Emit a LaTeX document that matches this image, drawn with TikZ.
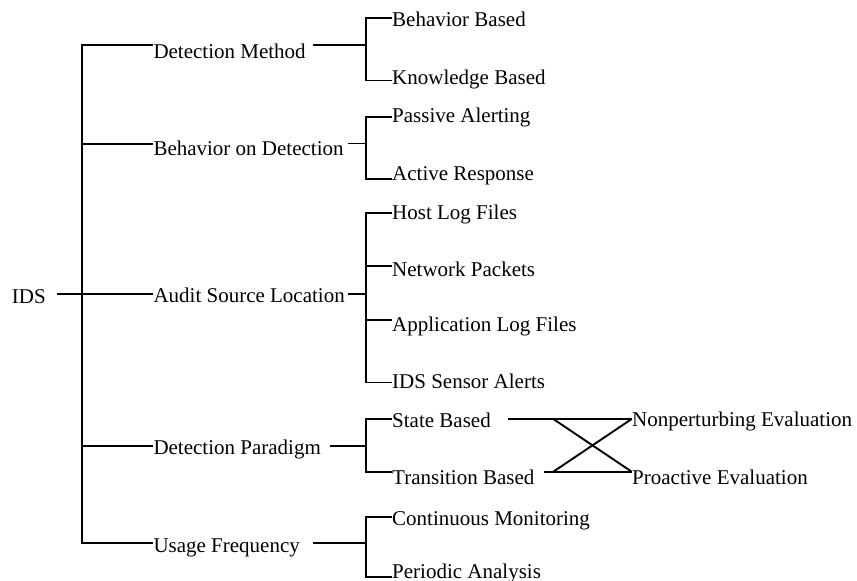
\documentclass[tikz,border=0pt]{standalone}
\usepackage{fontspec}
\setmainfont{Liberation Serif}
\begin{document}
\begin{tikzpicture}[x=1pt,y=-1pt,
  lbl/.style={anchor=base west, inner sep=0pt, font=\fontsize{21}{25}\selectfont},
  wire/.style={line width=1.9pt, line join=miter, line cap=butt}]
\useasboundingbox (0,0) rectangle (857,581);

% ---- text ----
\node[lbl] (ids) at (11.7,303.3) {IDS};

\node[lbl] (dm)  at (153.3,58.3)  {Detection Method};
\node[lbl] (bod) at (153.3,155.7) {Behavior on Detection};
\node[lbl] (asl) at (153.3,302.7) {Audit Source Location};
\node[lbl] (dp)  at (153.3,454)   {Detection Paradigm};
\node[lbl] (uf)  at (153.3,552.7) {Usage Frequency};

\node[lbl] (bb)  at (392,26.7)  {Behavior Based};
\node[lbl] (kb)  at (392,84)    {Knowledge Based};
\node[lbl] (pa)  at (392,122.7) {Passive Alerting};
\node[lbl] (ar)  at (392,180)   {Active Response};
\node[lbl] (hl)  at (392,219)   {Host Log Files};
\node[lbl] (np)  at (392,276)   {Network Packets};
\node[lbl] (al)  at (392,331.7) {Application Log Files};
\node[lbl] (is)  at (392,388)   {IDS Sensor Alerts};
\node[lbl] (sb)  at (392,427.5) {State Based};
\node[lbl] (tb)  at (392,484)   {Transition Based};
\node[lbl] (cm)  at (392,525)   {Continuous Monitoring};
\node[lbl] (pan) at (392,578.5) {Periodic Analysis};

\node[lbl] (ne)  at (632,426.7) {Nonperturbing Evaluation};
\node[lbl] (pe)  at (632,484.3) {Proactive Evaluation};

% ---- connector ends ----
\coordinate (ids-out) at (57,294.3);
\coordinate (main-j)  at (82,294.3);

\coordinate (dm-in)  at (153.3,45);
\coordinate (bod-in) at (153.3,143.7);
\coordinate (asl-in) at (153.3,294.3);
\coordinate (dp-in)  at (153.3,445.7);
\coordinate (uf-in)  at (153.3,543.3);

\coordinate (dm-out)  at (313.3,45);
\coordinate (bod-out) at (348.3,143.5);
\coordinate (asl-out) at (348.3,294.3);
\coordinate (dp-out)  at (330,445.7);
\coordinate (uf-out)  at (313.3,543);

\coordinate (dm-j)  at (366.3,45);
\coordinate (bod-j) at (366.3,143.5);
\coordinate (asl-j) at (366.3,294.3);
\coordinate (dp-j)  at (366.3,445.7);
\coordinate (uf-j)  at (366.3,543);

\coordinate (bb-in)  at (392,18.3);
\coordinate (kb-in)  at (392,80.5);
\coordinate (pa-in)  at (392,116.7);
\coordinate (ar-in)  at (392,179);
\coordinate (hl-in)  at (392,213.3);
\coordinate (np-in)  at (392,266);
\coordinate (al-in)  at (392,320);
\coordinate (is-in)  at (392,382.5);
\coordinate (sb-in)  at (392,419);
\coordinate (tb-in)  at (392,471.7);
\coordinate (cm-in)  at (392,516.7);
\coordinate (pan-in) at (392,577.3);

\coordinate (sb-out) at (508.3,419);
\coordinate (tb-out) at (544,471.7);
\coordinate (x-top)  at (553.3,419);
\coordinate (x-bot)  at (553.3,471.7);
\coordinate (ne-in)  at (631.7,419);
\coordinate (pe-in)  at (631.7,471.7);

% ---- root and main trunk ----
\draw[wire] (ids-out) -- (asl-in);
\draw[wire] (dm-in) -| (main-j) |- (uf-in);
\draw[wire] (main-j |- bod-in) -- (bod-in);
\draw[wire] (main-j |- dp-in) -- (dp-in);

% ---- second level ----
\draw[wire] (dm-out) -- (dm-j);
\draw[wire] (bb-in) -| (dm-j) |- (kb-in);

\draw[wire] (bod-out) -- (bod-j);
\draw[wire] (pa-in) -| (bod-j) |- (ar-in);

\draw[wire] (asl-out) -- (asl-j);
\draw[wire] (hl-in) -| (asl-j) |- (is-in);
\draw[wire] (asl-j |- np-in) -- (np-in);
\draw[wire] (asl-j |- al-in) -- (al-in);

\draw[wire] (dp-out) -- (dp-j);
\draw[wire] (sb-in) -| (dp-j) |- (tb-in);

\draw[wire] (uf-out) -- (uf-j);
\draw[wire] (cm-in) -| (uf-j) |- (pan-in);

% ---- evaluation cross ----
\draw[wire] (sb-out) -- (ne-in);
\draw[wire] (tb-out) -- (pe-in);
\draw[wire] (x-top) -- (pe-in);
\draw[wire] (x-bot) -- (ne-in);
\end{tikzpicture}
\end{document}
